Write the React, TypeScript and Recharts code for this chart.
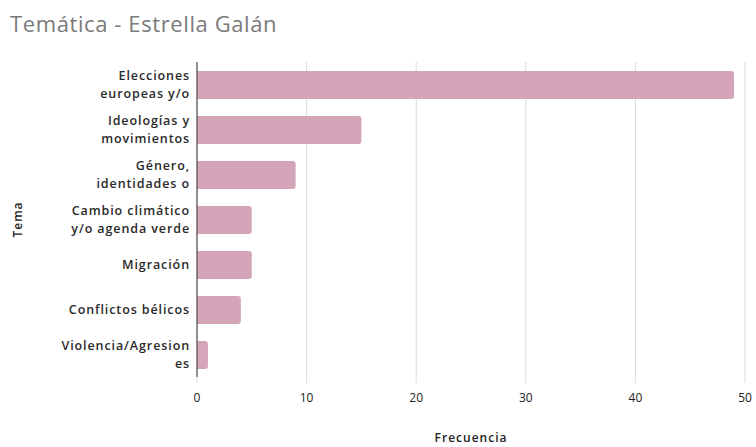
import { BarChart, Bar, XAxis, YAxis, CartesianGrid } from 'recharts'

const categories = [
  'Elecciones\neuropeas y/o',
  'Ideologías y\nmovimientos',
  'Género,\nidentidades o',
  'Cambio climático\ny/o agenda verde',
  'Migración',
  'Conflictos bélicos',
  'Violencia/Agresion\nes',
]
const frecuencia = [49, 15, 9, 5, 5, 4, 1]
const xTicks = [0, 10, 20, 30, 40, 50]

const data = categories.map((tema, i) => ({ tema, frecuencia: frecuencia[i] }))

const FONT = '"Open Sans", "DejaVu Sans", sans-serif'
const LABEL_STYLE = { fontSize: 12, fill: '#222', fontFamily: FONT, fontWeight: 600, letterSpacing: '1px' }

type TickProps = { x?: number; y?: number; payload?: { value: string } }

function TemaTick({ x = 0, y = 0, payload }: TickProps) {
  const lines = String(payload?.value ?? '').split('\n')
  const lineH = 18
  const startY = y - ((lines.length - 1) * lineH) / 2
  return (
    <text
      x={x + 1}
      y={startY}
      textAnchor="end"
      fill="#2a2a2a"
      fontSize={12.5}
      fontWeight={600}
      fontFamily={FONT}
      style={{ letterSpacing: '0.9px' }}
    >
      {lines.map((l, i) => (
        <tspan key={i} x={x + 1} dy={i === 0 ? '0.35em' : lineH}>
          {l}
        </tspan>
      ))}
    </text>
  )
}

export default function App() {
  return (
    <div style={{ position: 'absolute', left: 0, top: 0, width: 756, height: 447, background: '#fff' }}>
      <div
        style={{
          position: 'absolute',
          left: 10,
          top: 8,
          fontFamily: FONT,
          fontSize: 22,
          letterSpacing: '0.6px',
          color: '#7a7a7a',
        }}
      >
        Temática - Estrella Galán
      </div>
      <BarChart
        width={756}
        height={447}
        data={data}
        layout="vertical"
        margin={{ top: 62, right: 11, left: 0, bottom: 0 }}
        barSize={28}
      >
        <CartesianGrid horizontal={false} stroke="#dadada" />
        <XAxis
          type="number"
          domain={[0, 50]}
          ticks={xTicks}
          height={70}
          axisLine={false}
          tickLine={{ stroke: '#dadada' }}
          tickSize={6}
          tickMargin={10}
          tick={{ fontSize: 12, fill: '#222', fontFamily: FONT }}
          label={{ value: 'Frecuencia', position: 'insideBottom', offset: 5, style: LABEL_STYLE }}
        />
        <YAxis
          type="category"
          dataKey="tema"
          width={197}
          axisLine={{ stroke: '#333' }}
          tickLine={false}
          tick={<TemaTick />}
          interval={0}
          label={{
            value: 'Tema',
            angle: -90,
            position: 'insideLeft',
            offset: 18,
            style: { ...LABEL_STYLE, textAnchor: 'middle' },
          }}
        />
        <Bar dataKey="frecuencia" fill="#d4a5b9" radius={[0, 3, 3, 0]} isAnimationActive={false} />
      </BarChart>
    </div>
  )
}
